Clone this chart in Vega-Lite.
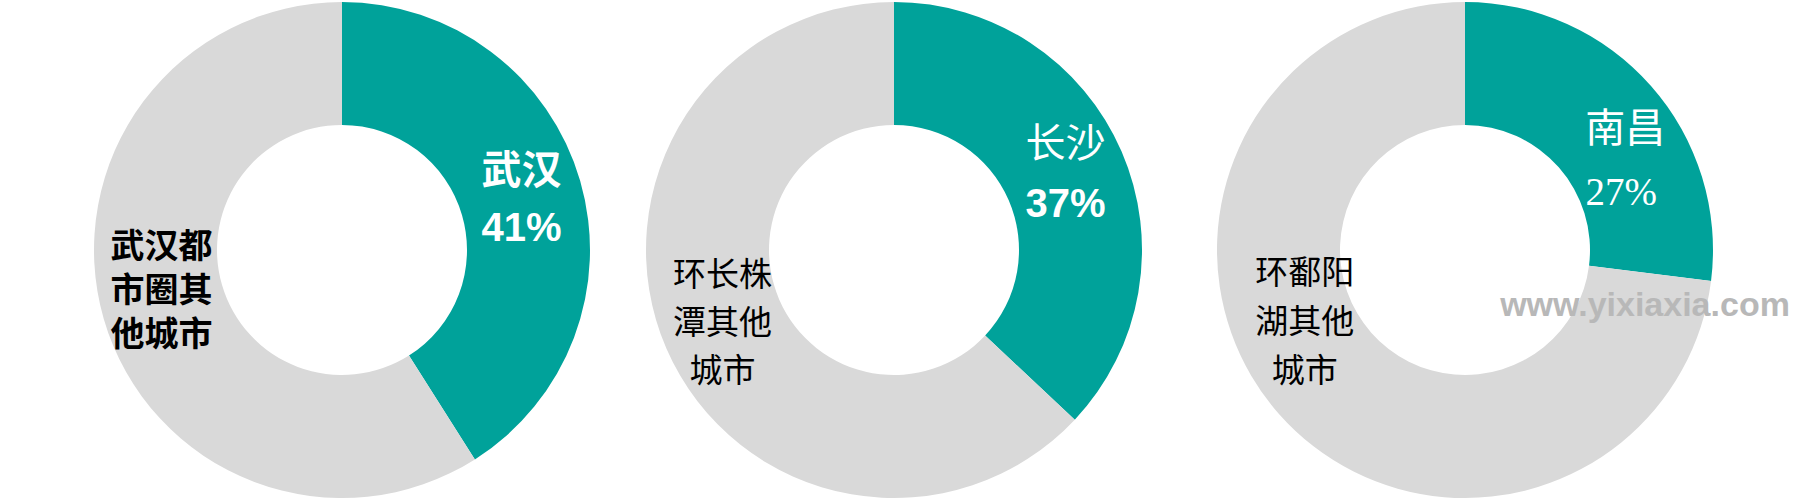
{
  "$schema": "https://vega.github.io/schema/vega-lite/v6.json",
  "padding": {"left": 92, "top": 0, "right": 0, "bottom": 0},
  "spacing": 10,
  "background": "white",
  "config": {"view": {"stroke": null}},
  "datasets": {
    "shares": [
      {"area": "武汉都市圈", "segment": "武汉", "kind": "core", "share": 0.41, "label": "武汉"},
      {"area": "武汉都市圈", "segment": "武汉都市圈其他城市", "kind": "other", "share": 0.59, "label": "武汉都\n市圈其\n他城市"},
      {"area": "环长株潭", "segment": "长沙", "kind": "core", "share": 0.37, "label": "长沙"},
      {"area": "环长株潭", "segment": "环长株潭其他城市", "kind": "other", "share": 0.63, "label": "环长株\n潭其他\n城市"},
      {"area": "环鄱阳湖", "segment": "南昌", "kind": "core", "share": 0.27, "label": "南昌"},
      {"area": "环鄱阳湖", "segment": "环鄱阳湖其他城市", "kind": "other", "share": 0.73, "label": "环鄱阳\n湖其他\n城市"}
    ]
  },
  "hconcat": [
    {
      "width": 500, "height": 500,
      "data": {"name": "shares"},
      "transform": [{"filter": "datum.area === '武汉都市圈'"}],
      "layer": [
        {
          "mark": {"type": "arc", "outerRadius": 248, "innerRadius": 125},
          "encoding": {
            "theta": {"field": "share", "type": "quantitative", "stack": true},
            "order": {"field": "kind", "sort": "ascending"},
            "color": {"field": "kind", "type": "nominal", "scale": {"domain": ["core", "other"], "range": ["#00A29A", "#D9D9D9"]}, "legend": null}
          }
        },
        {
          "mark": {"type": "text", "radius": 187, "dy": -26, "font": "Noto Sans CJK SC", "fontWeight": "bold", "fontSize": 40, "color": "#ffffff", "align": "center", "baseline": "middle"},
          "encoding": {
            "theta": {"field": "share", "type": "quantitative", "stack": true},
            "order": {"field": "kind", "sort": "ascending"},
            "text": {"condition": {"test": "datum.kind === 'core'", "field": "label", "type": "nominal"}, "value": ""}
          }
        },
        {
          "mark": {"type": "text", "radius": 187, "dy": 31, "font": "Liberation Sans", "fontWeight": "bold", "fontSize": 40, "color": "#ffffff", "align": "center", "baseline": "middle"},
          "encoding": {
            "theta": {"field": "share", "type": "quantitative", "stack": true},
            "order": {"field": "kind", "sort": "ascending"},
            "text": {"condition": {"test": "datum.kind === 'core'", "field": "share", "type": "quantitative", "format": ".0%"}, "value": ""}
          }
        },
        {
          "mark": {"type": "text", "radius": 187, "dx": -1, "dy": -54, "font": "Noto Sans CJK SC", "fontWeight": "bold", "fontSize": 34, "lineHeight": 44, "lineBreak": "\n", "color": "#000000", "align": "center", "baseline": "middle"},
          "encoding": {
            "theta": {"field": "share", "type": "quantitative", "stack": true},
            "order": {"field": "kind", "sort": "ascending"},
            "text": {"condition": {"test": "datum.kind === 'other'", "field": "label", "type": "nominal"}, "value": ""}
          }
        }
      ]
    },
    {
      "width": 584, "height": 500,
      "data": {"name": "shares"},
      "transform": [{"filter": "datum.area === '环长株潭'"}],
      "layer": [
        {
          "mark": {"type": "arc", "outerRadius": 248, "innerRadius": 125},
          "encoding": {
            "theta": {"field": "share", "type": "quantitative", "stack": true},
            "order": {"field": "kind", "sort": "ascending"},
            "color": {"field": "kind", "type": "nominal", "scale": {"domain": ["core", "other"], "range": ["#00A29A", "#D9D9D9"]}, "legend": null}
          }
        },
        {
          "mark": {"type": "text", "radius": 187, "dy": -31, "font": "Noto Sans CJK SC", "fontWeight": "normal", "fontSize": 40, "color": "#ffffff", "align": "center", "baseline": "middle"},
          "encoding": {
            "theta": {"field": "share", "type": "quantitative", "stack": true},
            "order": {"field": "kind", "sort": "ascending"},
            "text": {"condition": {"test": "datum.kind === 'core'", "field": "label", "type": "nominal"}, "value": ""}
          }
        },
        {
          "mark": {"type": "text", "radius": 187, "dy": 29, "font": "Liberation Sans", "fontWeight": "bold", "fontSize": 40, "color": "#ffffff", "align": "center", "baseline": "middle"},
          "encoding": {
            "theta": {"field": "share", "type": "quantitative", "stack": true},
            "order": {"field": "kind", "sort": "ascending"},
            "text": {"condition": {"test": "datum.kind === 'core'", "field": "share", "type": "quantitative", "format": ".0%"}, "value": ""}
          }
        },
        {
          "mark": {"type": "text", "radius": 187, "dx": 0, "dy": -48, "font": "Noto Sans CJK SC", "fontWeight": "normal", "fontSize": 33, "lineHeight": 48, "lineBreak": "\n", "color": "#000000", "align": "center", "baseline": "middle"},
          "encoding": {
            "theta": {"field": "share", "type": "quantitative", "stack": true},
            "order": {"field": "kind", "sort": "ascending"},
            "text": {"condition": {"test": "datum.kind === 'other'", "field": "label", "type": "nominal"}, "value": ""}
          }
        }
      ]
    },
    {
      "width": 538, "height": 500,
      "layer": [
        {
          "data": {"name": "shares"},
          "transform": [{"filter": "datum.area === '环鄱阳湖'"}],
          "layer": [
            {
              "mark": {"type": "arc", "outerRadius": 248, "innerRadius": 125},
              "encoding": {
                "theta": {"field": "share", "type": "quantitative", "stack": true},
                "order": {"field": "kind", "sort": "ascending"},
                "color": {"field": "kind", "type": "nominal", "scale": {"domain": ["core", "other"], "range": ["#00A29A", "#D9D9D9"]}, "legend": null}
              }
            },
            {
              "mark": {"type": "text", "radius": 187, "dx": 20, "dy": 4, "font": "Noto Sans CJK SC", "fontWeight": "normal", "fontSize": 40, "color": "#ffffff", "align": "center", "baseline": "middle"},
              "encoding": {
                "theta": {"field": "share", "type": "quantitative", "stack": true},
                "order": {"field": "kind", "sort": "ascending"},
                "text": {"condition": {"test": "datum.kind === 'core'", "field": "label", "type": "nominal"}, "value": ""}
              }
            },
            {
              "mark": {"type": "text", "radius": 187, "dx": 16, "dy": 67, "font": "Liberation Serif", "fontWeight": "normal", "fontSize": 39, "color": "#ffffff", "align": "center", "baseline": "middle"},
              "encoding": {
                "theta": {"field": "share", "type": "quantitative", "stack": true},
                "order": {"field": "kind", "sort": "ascending"},
                "text": {"condition": {"test": "datum.kind === 'core'", "field": "share", "type": "quantitative", "format": ".0%"}, "value": ""}
              }
            },
            {
              "mark": {"type": "text", "radius": 187, "dx": -20, "dy": -100, "font": "Noto Sans CJK SC", "fontWeight": "normal", "fontSize": 33, "lineHeight": 49, "lineBreak": "\n", "color": "#000000", "align": "center", "baseline": "middle"},
              "encoding": {
                "theta": {"field": "share", "type": "quantitative", "stack": true},
                "order": {"field": "kind", "sort": "ascending"},
                "text": {"condition": {"test": "datum.kind === 'other'", "field": "label", "type": "nominal"}, "value": ""}
              }
            }
          ]
        },
        {
          "data": {"values": [{"site": "www.yixiaxia.com"}]},
          "mark": {"type": "text", "dx": 180, "dy": 56, "font": "Liberation Sans", "fontWeight": "bold", "fontSize": 34, "color": "#b8b8b8", "align": "center", "baseline": "middle"},
          "encoding": {"text": {"field": "site", "type": "nominal"}}
        }
      ]
    }
  ]
}
